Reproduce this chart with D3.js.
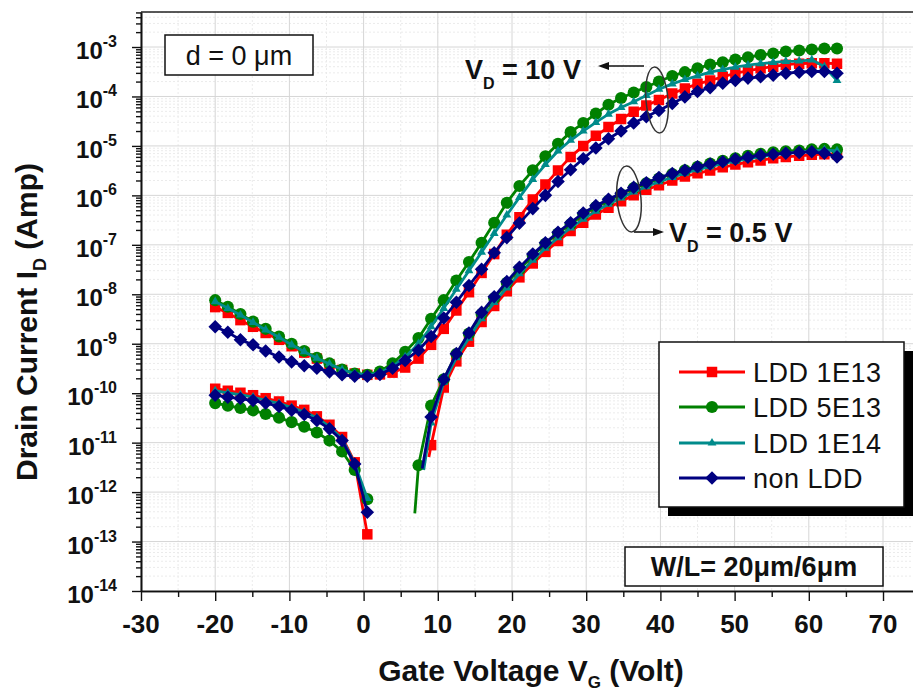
<!DOCTYPE html>
<html><head><meta charset="utf-8">
<script src="https://cdn.jsdelivr.net/npm/d3@7"></script>
<style>body{margin:0;background:#fff}svg{display:block;font-family:"Liberation Sans",Arial,sans-serif}</style>
</head><body>
<svg id="c" width="913" height="695"></svg>
<script>
// ---------------- data ----------------
const seriesNames = ["LDD 1E13", "LDD 5E13", "LDD 1E14", "non LDD"];
const gateV = [-20.0,-18.3,-16.6,-14.9,-13.2,-11.4,-9.7,-8.0,-6.3,-4.6,-2.9,-1.2,0.5,2.2,3.9,5.6,7.4,9.1,10.8,12.5,14.2,15.9,17.6,19.3,21.0,22.8,24.5,26.2,27.9,29.6,31.3,33.0,34.7,36.4,38.1,39.8,41.6,43.3,45.0,46.7,48.4,50.1,51.8,53.5,55.2,56.9,58.7,60.4,62.1,63.8];

// VD = 10 V
const id10_LDD1E13 = [5.5e-9,4.2e-9,3.0e-9,2.2e-9,1.65e-9,1.2e-9,8.9e-10,6.6e-10,5.0e-10,3.8e-10,2.95e-10,2.5e-10,2.35e-10,2.4e-10,2.6e-10,3.3e-10,5.0e-10,9.5e-10,2.0e-9,4.7e-9,1.1e-8,2.7e-8,6.5e-8,1.6e-7,3.6e-7,8.3e-7,1.65e-6,3.2e-6,6.0e-6,1.0e-5,1.6e-5,2.4e-5,3.5e-5,4.9e-5,6.6e-5,8.5e-5,1.15e-4,1.45e-4,1.8e-4,2.1e-4,2.5e-4,2.95e-4,3.3e-4,3.7e-4,4.0e-4,4.4e-4,4.6e-4,4.7e-4,4.7e-4,4.6e-4];
const id10_LDD5E13 = [7.6e-9,5.6e-9,4.0e-9,2.8e-9,2.0e-9,1.4e-9,1.0e-9,7.1e-10,5.2e-10,4.0e-10,3.0e-10,2.5e-10,2.35e-10,2.75e-10,4.0e-10,6.9e-10,1.3e-9,3.2e-9,7.6e-9,1.9e-8,4.5e-8,1.1e-7,2.8e-7,7.1e-7,1.55e-6,3.2e-6,6.2e-6,1.1e-5,1.9e-5,2.9e-5,4.5e-5,6.8e-5,9.3e-5,1.2e-4,1.55e-4,2.0e-4,2.6e-4,3.1e-4,3.7e-4,4.4e-4,4.9e-4,5.6e-4,6.2e-4,6.9e-4,7.4e-4,8.1e-4,8.5e-4,8.9e-4,9.3e-4,9.3e-4];
const id10_LDD1E14 = [7.1e-9,5.2e-9,3.8e-9,2.7e-9,1.9e-9,1.35e-9,9.5e-10,6.9e-10,5.1e-10,3.9e-10,3.0e-10,2.5e-10,2.35e-10,2.6e-10,3.5e-10,5.4e-10,1.0e-9,2.2e-9,5.2e-9,1.26e-8,3.0e-8,7.1e-8,1.7e-7,4.0e-7,9.1e-7,2.1e-6,4.2e-6,7.9e-6,1.3e-5,2.0e-5,3.0e-5,4.4e-5,6.0e-5,7.8e-5,1.05e-4,1.4e-4,1.8e-4,2.2e-4,2.6e-4,3.1e-4,3.5e-4,3.9e-4,4.3e-4,4.6e-4,4.9e-4,5.1e-4,5.2e-4,5.5e-4,4.0e-4,2.1e-4];
const id10_nonLDD = [2.2e-9,1.7e-9,1.2e-9,9.5e-10,7.1e-10,5.4e-10,4.3e-10,3.6e-10,3.2e-10,2.7e-10,2.35e-10,2.2e-10,2.2e-10,2.4e-10,3.2e-10,4.6e-10,7.4e-10,1.4e-9,3.3e-9,6.9e-9,1.5e-8,3.2e-8,6.9e-8,1.4e-7,2.75e-7,5.4e-7,1.0e-6,1.9e-6,3.3e-6,5.5e-6,9.1e-6,1.4e-5,2.0e-5,2.9e-5,3.9e-5,5.2e-5,7.2e-5,9.8e-5,1.26e-4,1.5e-4,1.86e-4,2.1e-4,2.35e-4,2.5e-4,2.7e-4,2.95e-4,3.1e-4,3.2e-4,3.2e-4,2.95e-4];

// VD = 0.5 V (null = negative current, not shown on log axis)
const id05_LDD1E13 = [1.23e-10,1.12e-10,1.02e-10,9.1e-11,7.9e-11,6.8e-11,5.6e-11,4.6e-11,3.4e-11,2.3e-11,1.3e-11,4.0e-12,1.4e-13,null,null,null,null,8.9e-12,1.3e-10,4.4e-10,1.1e-9,2.75e-9,5.8e-9,1.15e-8,2.2e-8,4.2e-8,7.2e-8,1.2e-7,1.9e-7,2.8e-7,4.1e-7,5.6e-7,7.6e-7,1.0e-6,1.3e-6,1.6e-6,2.0e-6,2.4e-6,2.8e-6,3.2e-6,3.7e-6,4.2e-6,4.7e-6,5.1e-6,5.6e-6,6.0e-6,6.3e-6,6.6e-6,6.8e-6,6.8e-6];
const id05_LDD5E13 = [6.3e-11,5.6e-11,5.0e-11,4.5e-11,3.8e-11,3.2e-11,2.6e-11,2.1e-11,1.6e-11,1.1e-11,6.6e-12,2.8e-12,7.2e-13,null,null,null,3.5e-12,5.6e-11,1.9e-10,6.2e-10,1.6e-9,4.0e-9,8.3e-9,1.7e-8,3.2e-8,6.0e-8,1.05e-7,1.7e-7,2.6e-7,4.1e-7,5.8e-7,7.8e-7,1.05e-6,1.4e-6,1.75e-6,2.2e-6,2.7e-6,3.2e-6,3.8e-6,4.4e-6,5.0e-6,5.6e-6,6.3e-6,6.9e-6,7.4e-6,7.8e-6,8.1e-6,8.5e-6,8.7e-6,8.5e-6];
const id05_LDD1E14 = [1.12e-10,1.02e-10,9.3e-11,8.3e-11,7.2e-11,6.2e-11,5.1e-11,4.2e-11,3.2e-11,2.1e-11,1.2e-11,3.8e-12,7.4e-13,null,null,null,null,2.5e-11,1.66e-10,5.2e-10,1.3e-9,3.2e-9,6.8e-9,1.35e-8,2.6e-8,4.9e-8,8.5e-8,1.4e-7,2.2e-7,3.3e-7,4.8e-7,6.6e-7,8.9e-7,1.17e-6,1.5e-6,1.9e-6,2.3e-6,2.8e-6,3.3e-6,3.8e-6,4.4e-6,4.9e-6,5.5e-6,6.0e-6,6.6e-6,7.1e-6,7.6e-6,7.9e-6,8.3e-6,7.9e-6];
const id05_nonLDD = [9.1e-11,8.3e-11,7.8e-11,7.1e-11,6.3e-11,5.4e-11,4.5e-11,3.7e-11,2.8e-11,1.9e-11,1.1e-11,3.7e-12,3.9e-13,null,null,null,null,3.3e-11,1.9e-10,6.3e-10,1.65e-9,4.3e-9,8.9e-9,1.8e-8,3.5e-8,6.5e-8,1.1e-7,1.8e-7,2.8e-7,4.4e-7,6.2e-7,8.3e-7,1.1e-6,1.45e-6,1.8e-6,2.3e-6,2.75e-6,3.2e-6,3.8e-6,4.3e-6,4.8e-6,5.4e-6,5.9e-6,6.5e-6,6.8e-6,7.1e-6,7.4e-6,7.6e-6,7.1e-6,6.0e-6];
// first (unmarked) point where the VD = 0.5 V curves turn positive again
const turnOnV = [8.8, 6.9, 8.1, 7.9];
const turnOnI = [5.1e-12, 3.7e-13, 2.8e-12, 3.0e-12];

const xTickValues = [-30,-20,-10,0,10,20,30,40,50,60,70];
const yTickExponents = [-14,-13,-12,-11,-10,-9,-8,-7,-6,-5,-4,-3];

// ---------------- styles ----------------
const colors = ["#ff0000", "#008000", "#008b8b", "#000080"];
const markerKinds = ["square", "circle", "triangle", "diamond"];
const FONT = '"Liberation Sans", Arial, sans-serif';

const svg = d3.select("#c");
const X0 = 141, X1 = 916.4, Y0 = 591, Y1 = 12;
const x = d3.scaleLinear().domain([-30, 74.5]).range([X0, X1]);
const y = d3.scaleLog().domain([1e-14, Math.pow(10, -2.292)]).range([Y0, Y1]);

svg.append("defs").append("clipPath").attr("id", "clip")
  .append("rect").attr("x", X0).attr("y", Y1).attr("width", X1 - X0).attr("height", Y0 - Y1);

// minor values
const yMinor = [];
yTickExponents.forEach(e => { for (let k = 2; k <= 9; k++) { const v = k * Math.pow(10, e); if (v < y.domain()[1]) yMinor.push(v); } });
const xMinor = d3.range(-25, 75, 10);

// grid
const grid = svg.append("g");
grid.selectAll(".ym").data(yMinor).join("line")
  .attr("x1", X0).attr("x2", X1).attr("y1", d => y(d)).attr("y2", d => y(d))
  .attr("stroke", "#ebebeb").attr("stroke-width", 1).attr("stroke-dasharray", "2,2");
grid.selectAll(".xm").data(xMinor).join("line")
  .attr("y1", Y1).attr("y2", Y0).attr("x1", d => x(d)).attr("x2", d => x(d))
  .attr("stroke", "#ebebeb").attr("stroke-width", 1).attr("stroke-dasharray", "2,2");
grid.selectAll(".yM").data(yTickExponents.map(e => Math.pow(10, e))).join("line")
  .attr("x1", X0).attr("x2", X1).attr("y1", d => y(d)).attr("y2", d => y(d))
  .attr("stroke", "#d6d6d6").attr("stroke-width", 1);
grid.selectAll(".xM").data(xTickValues).join("line")
  .attr("y1", Y1).attr("y2", Y0).attr("x1", d => x(d)).attr("x2", d => x(d))
  .attr("stroke", "#d6d6d6").attr("stroke-width", 1);

// axes
const yAxisMajor = d3.axisLeft(y).tickValues(yTickExponents.map(e => Math.pow(10, e))).tickSize(9).tickFormat("");
const yAxisMinor = d3.axisLeft(y).tickValues(yMinor).tickSize(5).tickFormat("");
const xAxisMajor = d3.axisBottom(x).tickValues(xTickValues).tickSize(10).tickFormat("");
const xAxisMinor = d3.axisBottom(x).tickValues(xMinor).tickSize(6).tickFormat("");
[yAxisMinor, yAxisMajor].forEach(a => {
  const g = svg.append("g").attr("transform", `translate(${X0},0)`).call(a.tickSizeOuter(0));
  g.selectAll("line").attr("stroke", "#111").attr("stroke-width", 1.4);
  g.select(".domain").attr("stroke", "#111").attr("stroke-width", 1.6);
});
[xAxisMinor, xAxisMajor].forEach(a => {
  const g = svg.append("g").attr("transform", `translate(0,${Y0})`).call(a.tickSizeOuter(0));
  g.selectAll("line").attr("stroke", "#111").attr("stroke-width", 1.4);
  g.select(".domain").attr("stroke", "#111").attr("stroke-width", 1.6);
});
svg.append("line").attr("x1", X0).attr("x2", X1).attr("y1", Y1).attr("y2", Y1)
  .attr("stroke", "#222").attr("stroke-width", 1.6);

// tick labels
svg.append("g").selectAll("text").data(xTickValues).join("text")
  .attr("x", d => x(d)).attr("y", 633).attr("text-anchor", "middle")
  .attr("font-family", FONT).attr("font-weight", "bold").attr("font-size", 26).attr("fill", "#111")
  .text(d => d);
const yl = svg.append("g").selectAll("text").data(yTickExponents).join("text")
  .attr("x", 117).attr("y", d => y(Math.pow(10, d)) + 12).attr("text-anchor", "end")
  .attr("font-family", FONT).attr("font-weight", "bold").attr("font-size", 24).attr("fill", "#111");
yl.append("tspan").text("10");
yl.append("tspan").attr("dy", -12).attr("font-size", 16).text(d => String(d));

// axis titles
const xt = svg.append("text").attr("x", 531).attr("y", 681).attr("text-anchor", "middle")
  .attr("font-family", FONT).attr("font-weight", "bold").attr("font-size", 30).attr("fill", "#111");
xt.append("tspan").text("Gate Voltage V");
xt.append("tspan").attr("dy", 7).attr("font-size", 17).text("G");
xt.append("tspan").attr("dy", -7).text(" (Volt)");
const yt = svg.append("text").attr("transform", "translate(37,322) rotate(-90)").attr("text-anchor", "middle")
  .attr("font-family", FONT).attr("font-weight", "bold").attr("font-size", 30).attr("fill", "#111");
yt.append("tspan").text("Drain Current I");
yt.append("tspan").attr("dy", 9).attr("font-size", 18).text("D");
yt.append("tspan").attr("dy", -9).text(" (Amp)");

// markers
function markerPath(kind) {
  if (kind === "square") return d3.symbol(d3.symbolSquare, 110)();
  if (kind === "circle") return d3.symbol(d3.symbolCircle, 115)();
  if (kind === "triangle") return d3.symbol(d3.symbolTriangle, 34)();
  return d3.symbol(d3.symbolSquare, 92)();
}
function markerTransform(kind, px, py) {
  return kind === "diamond" ? `translate(${px},${py}) rotate(45)` : `translate(${px},${py})`;
}

const plot = svg.append("g").attr("clip-path", "url(#clip)");
const line = d3.line().defined(d => d.i != null).x(d => x(d.v)).y(d => y(d.i));

const hiSets = [id10_LDD1E13, id10_LDD5E13, id10_LDD1E14, id10_nonLDD];
const loSets = [id05_LDD1E13, id05_LDD5E13, id05_LDD1E14, id05_nonLDD];

seriesNames.forEach((name, s) => {
  const col = colors[s], kind = markerKinds[s];
  const hi = gateV.map((v, k) => ({ v, i: hiSets[s][k], m: true }));
  const lo = [];
  let gapSeen = false;
  gateV.forEach((v, k) => {
    const val = loSets[s][k];
    if (val == null) { if (!gapSeen) { lo.push({ v, i: null, m: false }); lo.push({ v: turnOnV[s], i: turnOnI[s], m: false }); gapSeen = true; } return; }
    lo.push({ v, i: val, m: true });
  });
  [hi, lo].forEach(data => {
    plot.append("path").datum(data).attr("d", line).attr("fill", "none")
      .attr("stroke", col).attr("stroke-width", 2.8).attr("stroke-linejoin", "round");
    plot.append("g").selectAll("path").data(data.filter(d => d.m && d.i != null)).join("path")
      .attr("d", markerPath(kind)).attr("transform", d => markerTransform(kind, x(d.v), y(d.i)))
      .attr("fill", col);
  });
});

// annotations
function boxText(bx, by, bw, bh, txt, size, weight) {
  svg.append("rect").attr("x", bx).attr("y", by).attr("width", bw).attr("height", bh)
    .attr("fill", "#fff").attr("stroke", "#111").attr("stroke-width", 1.5);
  svg.append("text").attr("x", bx + bw / 2).attr("y", by + bh / 2 + size * 0.36).attr("text-anchor", "middle")
    .attr("font-family", FONT).attr("font-size", size).attr("font-weight", weight).attr("fill", "#111").text(txt);
}
boxText(165, 35, 148, 40, "d = 0 \u03bcm", 27, "normal");
boxText(625, 547, 258, 39, "W/L= 20\u03bcm/6\u03bcm", 27, "bold");

function vdLabel(px, py, rest) {
  const t = svg.append("text").attr("x", px).attr("y", py)
    .attr("font-family", FONT).attr("font-weight", "bold").attr("font-size", 27).attr("fill", "#111");
  t.append("tspan").text("V");
  t.append("tspan").attr("dy", 10).attr("font-size", 16).text("D");
  t.append("tspan").attr("dy", -10).text(rest);
}
vdLabel(465, 79, " = 10 V");
vdLabel(669, 242, " = 0.5 V");

function arrow(x1, y1, x2, y2) {
  const dir = Math.sign(x2 - x1);
  svg.append("line").attr("x1", x1).attr("y1", y1).attr("x2", x2 - dir * 8).attr("y2", y2)
    .attr("stroke", "#111").attr("stroke-width", 1.6);
  svg.append("path").attr("d", `M${x2},${y2} L${x2 - dir * 11},${y2 - 4} L${x2 - dir * 11},${y2 + 4} Z`).attr("fill", "#111");
}
arrow(644, 66, 598, 66);
arrow(634, 232, 664, 232);

[[657, 100, 11, 33], [629, 199, 12, 33]].forEach(([cx, cy, rx, ry]) => {
  svg.append("ellipse").attr("cx", 0).attr("cy", 0).attr("rx", rx).attr("ry", ry)
    .attr("transform", `translate(${cx},${cy}) rotate(-5)`)
    .attr("fill", "none").attr("stroke", "#333").attr("stroke-width", 1.5);
});

// legend
const L = { x: 659, y: 342, w: 245, h: 165 };
svg.append("rect").attr("x", L.x + 9).attr("y", L.y + 9).attr("width", L.w).attr("height", L.h).attr("fill", "#000");
svg.append("rect").attr("x", L.x).attr("y", L.y).attr("width", L.w).attr("height", L.h)
  .attr("fill", "#fff").attr("stroke", "#111").attr("stroke-width", 1.5);
const rowsY = [372, 407, 443, 478];
seriesNames.forEach((name, s) => {
  const ry = rowsY[s];
  svg.append("line").attr("x1", 679).attr("x2", 745).attr("y1", ry).attr("y2", ry)
    .attr("stroke", colors[s]).attr("stroke-width", 2.8);
  svg.append("path").attr("d", markerPath(markerKinds[s])).attr("transform", markerTransform(markerKinds[s], 712, ry))
    .attr("fill", colors[s]);
  svg.append("text").attr("x", 753).attr("y", ry + 10)
    .attr("font-family", FONT).attr("font-size", 27).attr("letter-spacing", 0.5).attr("fill", "#111").text(name);
});
</script>
</body></html>
